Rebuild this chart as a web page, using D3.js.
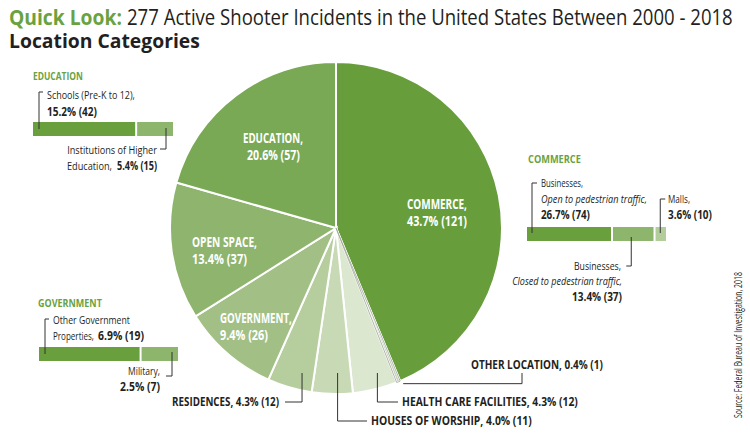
<!DOCTYPE html>
<html><head><meta charset="utf-8">
<script src="https://cdn.jsdelivr.net/npm/d3@7"></script>
<style>body{margin:0;background:#fff}svg{display:block}text{font-family:"Open Sans","Noto Sans",sans-serif}</style>
</head><body><svg id="c" width="750" height="436"></svg>
<script>
// ---- data ----
const categories = ["COMMERCE","OTHER LOCATION","HEALTH CARE FACILITIES","HOUSES OF WORSHIP","RESIDENCES","GOVERNMENT","OPEN SPACE","EDUCATION"];
const counts = [121,1,12,11,12,26,37,57];
const percents = ["43.7%","0.4%","4.3%","4.0%","4.3%","9.4%","13.4%","20.6%"];
const sliceColors = ["#679e3b","#c9d1c0","#dce7d0","#c8dab5","#b6cd9e","#a2c086","#8eb46e","#7aa956"];

const commerceSub = ["Businesses, Open to pedestrian traffic","Businesses, Closed to pedestrian traffic","Malls"];
const commerceCounts = [74,37,10];
const commercePct = ["26.7%","13.4%","3.6%"];
const educationSub = ["Schools (Pre-K to 12)","Institutions of Higher Education"];
const educationCounts = [42,15];
const educationPct = ["15.2%","5.4%"];
const governmentSub = ["Other Government Properties","Military"];
const governmentCounts = [19,7];
const governmentPct = ["6.9%","2.5%"];
const barColors = ["#6a9f3e","#8db56c","#b3cd9a"];

const titleGreen = "#6aa23f";
const svg = d3.select("#c");

// text compressed horizontally (condensed look) to a target width
function txt(x,y,s,o){
  o=o||{};
  const t=svg.append("text").attr("x",0).attr("y",0).text(s)
    .attr("font-size",o.size||11.5).attr("font-weight",o.bold?"bold":"normal")
    .attr("fill",o.fill||"#231f20").attr("text-anchor",o.anchor||"start");
  if(o.italic) t.attr("font-style","italic");
  let sx=1;
  if(o.w){ const len=t.node().getComputedTextLength(); if(len>0) sx=o.w/len; }
  t.attr("transform",`translate(${x},${y})${o.rotate?` rotate(${o.rotate})`:""} scale(${sx},1)`);
  return t;
}
function line(pts){
  svg.append("path").attr("d",d3.line()(pts)).attr("fill","none").attr("stroke","#333").attr("stroke-width",1);
}

// ---- titles ----
txt(9,25,"Quick Look:",{size:21,bold:true,fill:titleGreen,w:113});
txt(127,25,"277 Active Shooter Incidents in the United States Between 2000 - 2018",{size:21,w:606});
txt(9,48,"Location Categories",{size:19.5,bold:true,w:191});

// ---- pie ----
const cx=336, cy=228, R=166;
const pie=d3.pie().sort(null).startAngle(0).endAngle(2*Math.PI)(counts);
const arc=d3.arc().innerRadius(0).outerRadius(R);
const g=svg.append("g").attr("transform",`translate(${cx},${cy})`);
g.selectAll("path").data(pie).join("path").attr("d",arc)
  .attr("fill",(d,i)=>sliceColors[i]).attr("stroke","#fff").attr("stroke-width",2);
g.append("path").attr("d",arc(pie[1])).attr("fill","none").attr("stroke","#9aa393").attr("stroke-width",0.8);

function lbl(i){return `${categories[i]}, ${percents[i]} (${counts[i]})`;}

// inner labels
const inner=[
  {i:0,x:407,y:209,w1:60,w2:60,dx:0},
  {i:7,x:243,y:143,w1:60,w2:53,dx:4},
  {i:6,x:192,y:247,w1:65,w2:55,dx:0},
  {i:5,x:220,y:323,w1:72,w2:48,dx:0}
];
inner.forEach(o=>{
  txt(o.x,o.y,categories[o.i]+",",{size:14,bold:true,fill:"#fff",w:o.w1});
  txt(o.x+o.dx,o.y+17,`${percents[o.i]} (${counts[o.i]})`,{size:14,bold:true,fill:"#fff",w:o.w2});
});

// bottom labels with leaders
function midPt(i,r){const a=(pie[i].startAngle+pie[i].endAngle)/2;return [cx+r*Math.sin(a),cy-r*Math.cos(a)];}
{
  const p=midPt(1,R+2);
  line([[p[0]+4,p[1]],[522,p[1]],[522,373]]);
  txt(471,369,lbl(1),{size:13,bold:true,w:132});
}
{
  const p=midPt(2,150); const x=p[0]+6;
  line([[x,373],[x,402],[398,402]]);
  txt(402,406,lbl(2),{size:13,bold:true,w:176});
}
{
  const p=midPt(3,150); const x=p[0]+5;
  line([[x,373],[x,421],[367,421]]);
  txt(371,425,`${categories[3]}, ${percents[3]}  (${counts[3]})`,{size:13,bold:true,w:161});
}
{
  const p=midPt(4,150); const x=p[0]+8;
  line([[x,373],[x,402],[285,402]]);
  txt(279,406,lbl(4),{size:13,bold:true,anchor:"end",w:107});
}

// ---- breakdown bars ----
function bar(x0,y0,h,vals,W){
  const tot=d3.sum(vals);
  const s=d3.scaleLinear().domain([0,tot]).range([0,W]);
  let acc=0; const segs=[];
  vals.forEach((v,i)=>{
    const a=x0+s(acc), b=x0+s(acc+v);
    svg.append("rect").attr("x",a+(i?1:0)).attr("y",y0).attr("width",b-a-(i?1:0)-(i<vals.length-1?1:0)).attr("height",h).attr("fill",barColors[i]);
    segs.push([a,b]); acc+=v;
  });
  return segs;
}

// Education
txt(33,80,"EDUCATION",{size:10.5,bold:true,fill:titleGreen,w:50});
const eSeg=bar(33,122,14,educationCounts,140);
{
  const x=eSeg[0][0]+6;
  line([[x+4,92],[x,92],[x,129]]);
  txt(47,99,educationSub[0]+",",{w:88});
  txt(47,116,`${educationPct[0]} (${educationCounts[0]})`,{bold:true,w:50});
  const x2=eSeg[1][1]-7;
  line([[x2,128],[x2,149],[x2-6,149]]);
  txt(157,154,"Institutions of Higher",{anchor:"end",w:90});
  txt(67,170,"Education,",{w:45});
  txt(117,170,`${educationPct[1]} (${educationCounts[1]})`,{bold:true,w:40});
}

// Government
txt(38,307,"GOVERNMENT",{size:10.5,bold:true,fill:titleGreen,w:64});
const gSeg=bar(39,347,14,governmentCounts,139);
{
  const x=gSeg[0][0]+6;
  line([[x+4,319],[x,319],[x,354]]);
  txt(53,324,"Other Government",{w:77});
  txt(53,340,"Properties,",{w:41});
  txt(98,340,`${governmentPct[0]} (${governmentCounts[0]})`,{bold:true,w:46});
  const x2=gSeg[1][1]-6;
  line([[x2,352],[x2,376],[x2-6,376]]);
  txt(160,375,governmentSub[1]+",",{anchor:"end",w:32});
  txt(160,391,`${governmentPct[1]} (${governmentCounts[1]})`,{bold:true,anchor:"end",w:40});
}

// Commerce
txt(528,163,"COMMERCE",{size:10.5,bold:true,fill:titleGreen,w:53});
const cSeg=bar(527,227,14,commerceCounts,139);
{
  const x=cSeg[0][0]+5;
  line([[x+5,183],[x,183],[x,233]]);
  txt(541,187,"Businesses,",{w:42});
  txt(541,203,"Open to pedestrian traffic,",{italic:true,w:106});
  txt(541,219,`${commercePct[0]} (${commerceCounts[0]})`,{bold:true,w:49});
  const xm=(cSeg[2][0]+cSeg[2][1])/2;
  line([[xm+5,199],[xm,199],[xm,233]]);
  txt(668,203,commerceSub[2]+",",{w:22});
  txt(668,219,`${commercePct[2]} (${commerceCounts[2]})`,{bold:true,w:44});
  const xc=(cSeg[1][0]+cSeg[1][1])/2-2;
  line([[xc,237],[xc,266],[xc-5,266]]);
  txt(621,270,"Businesses,",{anchor:"end",w:47});
  txt(622,285,"Closed to pedestrian traffic,",{italic:true,anchor:"end",w:110});
  txt(622,301,`${commercePct[1]} (${commerceCounts[1]})`,{bold:true,anchor:"end",w:50});
}

// source
txt(742,418,"Source: Federal Bureau of Investigation, 2018",{size:10,rotate:-90,w:146});
</script></body></html>
